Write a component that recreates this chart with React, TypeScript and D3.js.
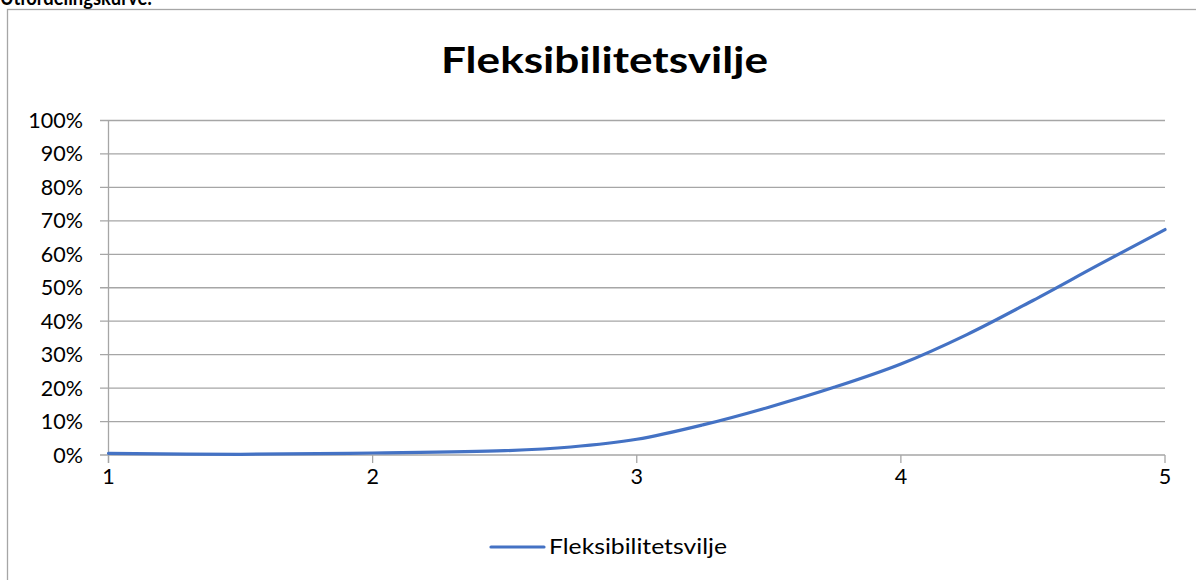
import React from "react";
import * as d3 from "d3";

const seriesName = "Fleksibilitetsvilje";
const titleText = "Fleksibilitetsvilje";
const headerText = "Utfordelingskurve:";
const xValues = [1, 1.5, 2, 2.5, 2.75, 3, 3.25, 3.5, 3.75, 4, 4.25, 4.5, 4.75, 5];
const yValues = [0.005, 0.002, 0.006, 0.013, 0.024, 0.047, 0.09, 0.143, 0.203, 0.272, 0.36, 0.462, 0.569, 0.674];
const xTicks = [1, 2, 3, 4, 5];
const yTicks = [0, 0.1, 0.2, 0.3, 0.4, 0.5, 0.6, 0.7, 0.8, 0.9, 1];

const W = 1196;
const H = 580;
const FONT = "Lato, 'Open Sans', sans-serif";

export default function App() {
  const x = d3.scaleLinear().domain([1, 5]).range([108.5, 1165]);
  const y = d3.scaleLinear().domain([0, 1]).range([455, 120.5]);
  const data = xValues.map((v, i) => [v, yValues[i]] as [number, number]);
  const line = d3
    .line<[number, number]>()
    .x((d) => x(d[0]))
    .y((d) => y(d[1]))
    .curve(d3.curveCatmullRom.alpha(0.5));
  const fmt = d3.format(".0%");
  const grid = "#a6a6a6";
  return (
    <svg
      width={W}
      height={H}
      style={{ position: "absolute", left: 0, top: 0, background: "#fff" }}
      fontFamily={FONT}
    >
      <rect x={0} y={0} width={W} height={H} fill="#fff" />
      <text x={0} y={5} fontSize={21} fontWeight="bold" fill="#000" textLength={152} lengthAdjust="spacingAndGlyphs">
        {headerText}
      </text>
      <rect x={7.5} y={9.5} width={1200} height={600} fill="#fff" stroke="#a6a6a6" strokeWidth={1.3} />
      <text
        x={441}
        y={73}
        fontSize={37}
        fontWeight="bold"
        fill="#000"
        textLength={327}
        lengthAdjust="spacingAndGlyphs"
      >
        {titleText}
      </text>
      {yTicks.map((t) => (
        <g key={t}>
          <line x1={100} x2={x(5)} y1={y(t)} y2={y(t)} stroke={grid} strokeWidth={1.3} />
          <text x={83} y={y(t) + 7.5} fontSize={21.5} textAnchor="end" fill="#000">
            {fmt(t)}
          </text>
        </g>
      ))}
      <line x1={x(1)} x2={x(1)} y1={y(1)} y2={y(0) + 8} stroke={grid} strokeWidth={1.3} />
      {xTicks.map((t) => (
        <g key={t}>
          <line x1={x(t)} x2={x(t)} y1={y(0)} y2={y(0) + 8} stroke={grid} strokeWidth={1.3} />
          <text x={x(t)} y={484} fontSize={21.5} textAnchor="middle" fill="#000">
            {t}
          </text>
        </g>
      ))}
      <path d={line(data) || ""} fill="none" stroke="#4472C4" strokeWidth={3.2} strokeLinecap="round" />
      <line x1={491} x2={544} y1={547} y2={547} stroke="#4472C4" strokeWidth={3.2} strokeLinecap="round" />
      <text x={549} y={554} fontSize={21} fill="#000" textLength={178} lengthAdjust="spacingAndGlyphs">
        {seriesName}
      </text>
    </svg>
  );
}
